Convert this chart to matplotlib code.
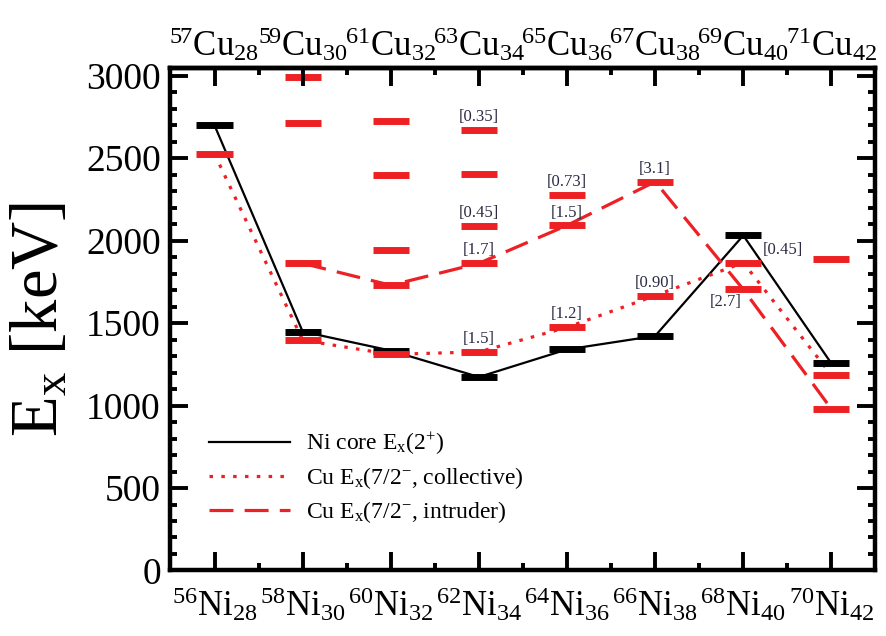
import matplotlib
matplotlib.use('Agg')
import matplotlib.pyplot as plt
from matplotlib.ticker import MultipleLocator

plt.rcParams['font.family'] = ['Liberation Serif', 'DejaVu Serif']
plt.rcParams['mathtext.fontset'] = 'custom'
plt.rcParams['mathtext.rm'] = 'Liberation Serif'
plt.rcParams['mathtext.it'] = 'Liberation Serif:italic'
plt.rcParams['mathtext.bf'] = 'Liberation Serif:bold'

# ---------------- data ----------------
N = [28, 30, 32, 34, 36, 38, 40, 42]
ni_mass = [56, 58, 60, 62, 64, 66, 68, 70]
cu_mass = [57, 59, 61, 63, 65, 67, 69, 71]

ni_2plus = [2698, 1448, 1333, 1173, 1340, 1422, 2031, 1255]
cu_collective = [2525, 1396, 1310, 1325, 1474, 1666, 1866, 1185]
intruder_N = [30, 32, 34, 36, 38, 40, 42]
cu_intruder = [1862, 1729, 1862, 2092, 2357, 1704, 979]
other_N = [30, 30, 32, 32, 32, 34, 34, 34, 36, 42]
cu_other = [2992, 2713, 1943, 2396, 2724, 2091, 2402, 2669, 2275, 1891]

ann_N = [34, 34, 34, 34, 36, 36, 36, 38, 38, 40, 40]
ann_E = [2669, 2091, 1862, 1325, 2275, 2092, 1474, 2357, 1666, 1866, 1704]
ann_text = ['[0.35]', '[0.45]', '[1.7]', '[1.5]', '[0.73]', '[1.5]', '[1.2]',
            '[3.1]', '[0.90]', '[0.45]', '[2.7]']
ann_place = ['above'] * 9 + ['right', 'below']

legend_labels = [r'Ni core E$_{\rm x}$(2$^{+}$)',
                 r'Cu E$_{\rm x}$(7/2$^{-}$, collective)',
                 r'Cu E$_{\rm x}$(7/2$^{-}$, intruder)']

RED = '#ed2024'
TXT = '#2b2b44'
HW = 0.41  # half width of level bars (in N units)

fig = plt.figure(figsize=(8.87, 6.36), dpi=100)
ax = fig.add_axes([0.1922, 0.1030, 0.7948, 0.7893])

# connecting lines
l1, = ax.plot(N, ni_2plus, color='black', lw=1.6, zorder=2, label=legend_labels[0])
l2, = ax.plot(N, cu_collective, color=RED, lw=2.3, ls=(0, (1.1, 2.6)),
              zorder=2, label=legend_labels[1])
l3, = ax.plot(intruder_N, cu_intruder, color=RED, lw=2.3, ls=(0, (7.5, 3.5)),
              zorder=2, label=legend_labels[2])

# level bars
def bars(xs, ys, color):
    ax.hlines(ys, [x - HW for x in xs], [x + HW for x in xs], colors=color,
              lw=5, zorder=3)

bars(N, ni_2plus, 'black')
bars(N, cu_collective, RED)
bars(intruder_N, cu_intruder, RED)
bars(other_N, cu_other, RED)

# annotations
for x, y, t, p in zip(ann_N, ann_E, ann_text, ann_place):
    if p == 'above':
        ax.annotate(t, (x, y), xytext=(0, 3.5), textcoords='offset points',
                    ha='center', va='bottom', fontsize=12, color=TXT, zorder=4)
    elif p == 'right':
        ax.annotate(t, (x + HW, y), xytext=(1, 3), textcoords='offset points',
                    ha='left', va='bottom', fontsize=12, color=TXT, zorder=4)
    else:
        ax.annotate(t, (x, y), xytext=(-1, -3.5), textcoords='offset points',
                    ha='right', va='top', fontsize=12, color=TXT, zorder=4)

ax.set_xlim(27, 43)
ax.set_ylim(0, 3043)

ax.yaxis.set_major_locator(MultipleLocator(500))
ax.yaxis.set_minor_locator(MultipleLocator(100))
ax.set_xticks(N)
ax.set_xticklabels([r'$^{%d}$Ni$_{%d}$' % (m, n) for m, n in zip(ni_mass, N)])
ax.xaxis.set_minor_locator(MultipleLocator(1))

ax.tick_params(axis='both', which='major', direction='in', length=13, width=2.8,
               top=True, right=True)
ax.tick_params(axis='both', which='minor', direction='in', length=5, width=2.8,
               top=True, right=True)
ax.tick_params(axis='y', labelsize=27, pad=7)
ax.tick_params(axis='x', labelsize=25, pad=11)
for s in ax.spines.values():
    s.set_linewidth(3.2)

ax2 = ax.twiny()
ax2.set_xlim(ax.get_xlim())
ax2.set_xticks(N)
ax2.set_xticklabels([r'$^{%d}$Cu$_{%d}$' % (m, n) for m, n in zip(cu_mass, N)])
ax2.xaxis.set_minor_locator(MultipleLocator(1))
ax2.tick_params(axis='x', which='major', direction='in', length=13, width=2.8,
                labelsize=25, pad=3)
ax2.tick_params(axis='x', which='minor', direction='in', length=5, width=2.8)
ax2.spines['top'].set_linewidth(3.2)

ax.set_ylabel(r'E$_{\rm x}$ [keV]', fontsize=48)
ax.yaxis.label.set_verticalalignment('center')
ax.yaxis.set_label_coords(-0.183, 0.5)

leg = ax.legend(handles=[l1, l2, l3], loc='lower left',
                bbox_to_anchor=(0.055, 0.09), frameon=False, fontsize=17,
                handlelength=3.4, handletextpad=0.7, labelspacing=0.35,
                borderaxespad=0, borderpad=0)

fig.savefig('out.png', dpi=100)
